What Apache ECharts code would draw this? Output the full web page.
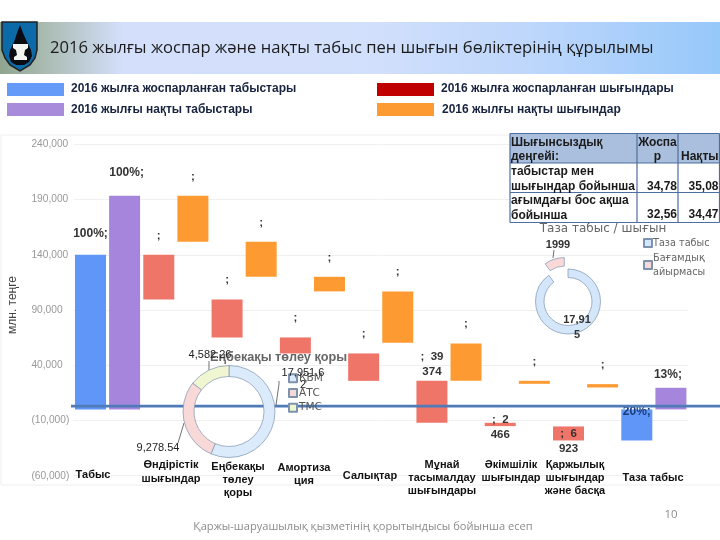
<!DOCTYPE html>
<html><head><meta charset="utf-8">
<style>html,body{margin:0;padding:0;background:#fff}#c{width:720px;height:540px}</style>
<script src="https://cdn.jsdelivr.net/npm/echarts@6/dist/echarts.min.js"></script>
</head><body><div id="c"></div>
<script>
const categories = ['Табыс','Өндірістік\nшығындар','Еңбекақы\nтөлеу\nқоры','Амортиза\nция','Салықтар','Мұнай\nтасымалдау\nшығындары','Әкімшілік\nшығындар','Қаржылық\nшығындар\nжәне басқа','Таза табыс'];
const planLow  = [0, 99600, 65200, 50700, 25900, -12100, -15100, -28100, -28100];
const planHigh = [140000, 140000, 99600, 65200, 50700, 25900, -12100, -15400, 0];
const actualLow  = [0, 151800, 120100, 106900, 60300, 25900, 23200, 19900, 0];
const actualHigh = [193500, 193500, 151800, 120100, 106900, 59800, 25900, 22900, 19600];
const planLabels = ['100%;',';',';',';',';',';  39\n374',';  2\n466',';  6\n923','20%;'];
const actualLabels = ['100%;',';',';',';',';',';',';',';','13%;'];
const yTicks = [-60000,-10000,40000,90000,140000,190000,240000];
const legendNames = ['2016 жылға жоспарланған табыстары','2016 жылғы нақты табыстары','2016 жылға жоспарланған шығындары','2016 жылғы нақты шығындар'];
const wageNames = ['ҚБМ','АТС','ТМС'];
const wageValues = [17951.62, 9278.54, 4582.26];
const wageLabels = ['17,951.6\n2','9,278.54','4,582.26'];
const netNames = ['Таза табыс','Бағамдық\nайырмасы'];
const netValues = [17915, 1999];
const netLabels = ['17,91\n5','1999'];
const tableRows = [['Шығынсыздық\nдеңгейі:','Жоспа\nр','Нақты'],['табыстар мен\nшығындар бойынша','34,78','35,08'],['ағымдағы бос ақша\nбойынша','32,56','34,47']];
const titleText = '2016 жылғы жоспар және нақты табыс пен шығын бөліктерінің құрылымы';
const footerText = 'Қаржы-шаруашылық қызметінің қорытындысы бойынша есеп';

const BLUE='#5f96f8',PURPLE='#a686dc',RED='#ef7569',ORANGE='#fd9a31';
const F='"Liberation Sans",Arial,sans-serif';
const g=[];
// header band
g.push({type:'rect',z:-5,shape:{x:0,y:22,width:720,height:52},style:{fill:{type:'linear',x:0,y:0,x2:1,y2:0,colorStops:[{offset:0,color:'#8fa58f'},{offset:.06,color:'#a9bab0'},{offset:.17,color:'#d3dffb'},{offset:.5,color:'#d3e0fc'},{offset:.75,color:'#bcd6fb'},{offset:1,color:'#96c8fa'}]}}});
// emblem
g.push({type:'polygon',z:5,shape:{points:[[2,22],[37,22],[37,50],[35,58],[30,65],[20,71],[10,65],[5,58],[2,50]]},style:{fill:'#0d6aa8',stroke:'#222',lineWidth:1.5}});
g.push({type:'polygon',z:6,shape:{points:[[20,25],[23,33],[27,42],[31,50],[32,56],[29,62],[24,65],[16,65],[11,62],[9,56],[10,50],[14,42],[17,33]]},style:{fill:'#0b0b12'}});
g.push({type:'polygon',z:7,shape:{points:[[13,44],[28,44],[28,48],[25,50],[24,55],[27,57],[27,60],[14,60],[14,57],[17,55],[16,50],[13,48]]},style:{fill:'#f4f4f0'}});
g.push({type:'text',z:8,style:{x:50,y:48.5,text:titleText,font:'16.6px "Open Sans",sans-serif',fill:'#1b1b1b',verticalAlign:'middle'}});
// legend swatches
const sw=[[7,83,'#669af9',71,89],[7,103,'#a98bdc',71,109.5],[377,83,'#c00000',441,89],[377,103,'#fd9a31',442,109.5]];
sw.forEach((s,i)=>{
 g.push({type:'rect',shape:{x:s[0],y:s[1],width:57,height:13},style:{fill:s[2]}});
 g.push({type:'text',style:{x:s[3],y:s[4],text:legendNames[i],font:'bold 12px '+F,fill:'#17233f',verticalAlign:'middle'}});
});
// chart frame
g.push({type:'polyline',z:-2,shape:{points:[[1,484.5],[1,135],[509,135]]},style:{stroke:'#eeeeee',fill:null,lineWidth:1}});
g.push({type:'line',z:-2,shape:{x1:1,y1:485,x2:720,y2:485},style:{stroke:'#eeeeee',lineWidth:1}});
g.push({type:'text',style:{x:0,y:0,text:'млн. теңге',font:'12px '+F,fill:'#444',align:'center',verticalAlign:'middle'},x:13,y:305,rotation:Math.PI/2});
// horizontal blue rule
g.push({type:'rect',z:4,shape:{x:71,y:404.8,width:649,height:2.6},style:{fill:'#4f7cb8'}});
// category labels
const catPos=[[93,475],[171,472],[238,480],[304,474.5],[370,476],[442,478],[511,471.5],[575,478],[653,478]];
categories.forEach((c,i)=>g.push({type:'text',z:9,style:{x:catPos[i][0],y:catPos[i][1],text:c,font:'bold 11px '+F,lineHeight:13.2,fill:'#111',align:'center',verticalAlign:'middle'}}));
// table
const colX=[510,637,678,719.5],rowY=[133.5,163,192.5,222.5];
const rowMid=[149.7,179.2,208.3],rowLast=[157,186.7,215];
g.push({type:'rect',z:10,shape:{x:510,y:133.5,width:209.5,height:29.5},style:{fill:'#a9bfdd'}});
g.push({type:'rect',z:10,shape:{x:510,y:163,width:209.5,height:59.5},style:{fill:'#fff'}});
rowY.forEach(y=>g.push({type:'line',z:11,shape:{x1:510,y1:y,x2:719.5,y2:y},style:{stroke:'#4d6f9f',lineWidth:1.2}}));
colX.forEach(x=>g.push({type:'line',z:11,shape:{x1:x,y1:133.5,x2:x,y2:222.5},style:{stroke:'#4d6f9f',lineWidth:1.2}}));
tableRows.forEach((r,ri)=>r.forEach((t,ci)=>{
 const st={text:t,font:'bold 12px '+F,lineHeight:14.4,fill:'#1a1a1a',verticalAlign:'middle',y:t.includes('\n')?rowMid[ri]:rowLast[ri]};
 if(ci===0){st.x=511;st.align='left';}
 else if(ri===0&&ci===1){st.x=657.5;st.align='center';}
 else {st.x=colX[ci+1]-1;st.align='right';}
 g.push({type:'text',z:12,style:st});
}));
// footer
g.push({type:'text',style:{x:363,y:527,text:footerText,font:'11.1px "Open Sans",sans-serif',fill:'#8b8b8b',align:'center',verticalAlign:'middle'}});
g.push({type:'text',style:{x:671,y:515,text:'10',font:'11.5px "Open Sans",sans-serif',fill:'#8b8b8b',align:'center',verticalAlign:'middle'}});
// label of the pulled-out slice (selected-state labels ignore labelLayout)
g.push({type:'text',z:12,style:{x:558,y:245,text:netLabels[1],font:'bold 11px '+F,fill:'#333',align:'center',verticalAlign:'middle'}});
g.push({type:'line',z:12,shape:{x1:554,y1:250,x2:553,y2:258},style:{stroke:'#333',lineWidth:.7}});

function baseSeries(name,stack,low,high){return {name:name+' base',type:'bar',stack,stackStrategy:'all',barWidth:31,barGap:'10%',silent:true,itemStyle:{color:'transparent'},data:low.slice(),z:2};}
function labelCfg(t,opt){return Object.assign({show:true,formatter:t,position:'top',distance:12,color:'#333',fontSize:11.5,fontWeight:'bold',fontFamily:F,lineHeight:14.5},opt||{});}
const planOpts={0:{distance:14,fontSize:12,color:'#333'},5:{distance:2,fontSize:11.5},6:{position:'inside',color:'#333',offset:[0,3]},7:{position:'inside',color:'#333',offset:[0,8]},8:{position:'insideTop',distance:-5,color:'#1c3c78',fontSize:12}};
const actualOpts={0:{distance:16,fontSize:12,offset:[2,0]},8:{distance:6,fontSize:12,offset:[-3,0]}};
const planColors=categories.map((_,i)=>(i===0||i===8)?BLUE:RED);
const actualColors=categories.map((_,i)=>(i===0||i===8)?PURPLE:ORANGE);

const option={
 animation:false,
 textStyle:{fontFamily:F},
 graphic:g,
 title:[
  {text:'Еңбекақы төлеу қоры',left:278.5,top:357,textAlign:'center',textVerticalAlign:'middle',textStyle:{fontSize:12.7,fontWeight:'bold',color:'#666',fontFamily:F},padding:0},
  {text:'Таза табыс / шығын',left:603,top:229,textAlign:'center',textVerticalAlign:'middle',textStyle:{fontSize:12,fontWeight:'normal',color:'#666',fontFamily:'"DejaVu Sans",sans-serif'},padding:0}
 ],
 legend:[
  {seriesIndex:4,data:wageNames,orient:'vertical',left:288,top:371.5,itemWidth:8,itemHeight:8,itemGap:1,icon:'rect',padding:0,textStyle:{fontSize:10.5,color:'#555',lineHeight:13.7,padding:[0,0,0,-3],fontFamily:'"DejaVu Sans",sans-serif'}},
  {seriesIndex:5,data:netNames,orient:'vertical',left:643,top:236,itemWidth:8,itemHeight:8,itemGap:1,icon:'rect',padding:0,textStyle:{fontSize:9.7,color:'#666',lineHeight:14,padding:[0,0,0,-4],fontFamily:'"DejaVu Sans",sans-serif'}}
 ],
 grid:{left:73.4,right:32,top:144.4,bottom:64.3,containLabel:false},
 xAxis:{type:'category',data:categories,axisLine:{show:false},axisTick:{show:false},axisLabel:{show:false},splitLine:{show:false}},
 yAxis:{type:'value',min:-60000,max:240000,
  axisLine:{show:false},
  axisTick:{show:false,customValues:yTicks},
  axisLabel:{customValues:yTicks,align:'left',margin:42,color:'#999',fontSize:10.2,formatter:v=>{const s=Math.abs(v).toLocaleString('en-US');return v<0?'('+s+')':s;}},
  splitLine:{show:true,lineStyle:{color:'#f0f0f0',width:1}}},
 series:[
  baseSeries('План','plan',planLow,planHigh),
  {name:'План',type:'bar',stack:'plan',stackStrategy:'all',barWidth:31,barGap:'10%',z:2,
   data:planHigh.map((h,i)=>({value:h-planLow[i],itemStyle:{color:planColors[i]},label:labelCfg(planLabels[i],planOpts[i])}))},
  baseSeries('Факт','actual',actualLow,actualHigh),
  {name:'Факт',type:'bar',stack:'actual',stackStrategy:'all',barWidth:31,barGap:'10%',z:2,
   data:actualHigh.map((h,i)=>({value:h-actualLow[i],itemStyle:{color:actualColors[i]},label:labelCfg(actualLabels[i],actualOpts[i])}))},
  {name:'wage',type:'pie',z:8,center:[229,411.5],radius:[35,46],startAngle:90,clockwise:true,avoidLabelOverlap:false,
   itemStyle:{borderColor:'#7d93ad',borderWidth:.7},
   label:{fontSize:11,color:'#222',lineHeight:12.5,fontFamily:F},
   labelLine:{show:true,lineStyle:{color:'#333',width:.7},length:8,length2:4},
   data:wageNames.map((n,i)=>({name:n,value:wageValues[i],itemStyle:{color:['#dcebfb','#f9d9d8','#f1f6d2'][i]},label:{formatter:wageLabels[i]}})),
   labelLayout:p=>{const i=p.dataIndex;const pos=[[303,379],[158,447.5],[210,355]][i];const ln=[[[276,405],[279,384],[279,381]],[[184,423],[178,443],[177,444]],[[209,370],[209,363],[209,361]]][i];return {x:pos[0],y:pos[1],align:'center',verticalAlign:'middle',labelLinePoints:ln};}},
  {name:'net',type:'pie',z:8,center:[568,301.5],radius:[24,32.5],startAngle:90,clockwise:true,selectedMode:'multiple',selectedOffset:12,avoidLabelOverlap:false,
   itemStyle:{borderColor:'#7d93ad',borderWidth:.7},
   label:{fontSize:11,color:'#333',lineHeight:15,fontFamily:F,fontWeight:'bold'},
   labelLine:{show:false},
   data:netNames.map((n,i)=>({name:n,value:netValues[i],selected:i===1,itemStyle:{color:['#d3e6fa','#f9d9d8'][i]},label:{show:i===0,formatter:netLabels[i]}})),
   labelLayout:p=>{return p.dataIndex===0?{x:577,y:327,align:'center',verticalAlign:'middle'}:{};}}
 ]
};
const chart=echarts.init(document.getElementById('c'),null,{renderer:'canvas',width:720,height:540});
chart.setOption(option);
</script></body></html>
